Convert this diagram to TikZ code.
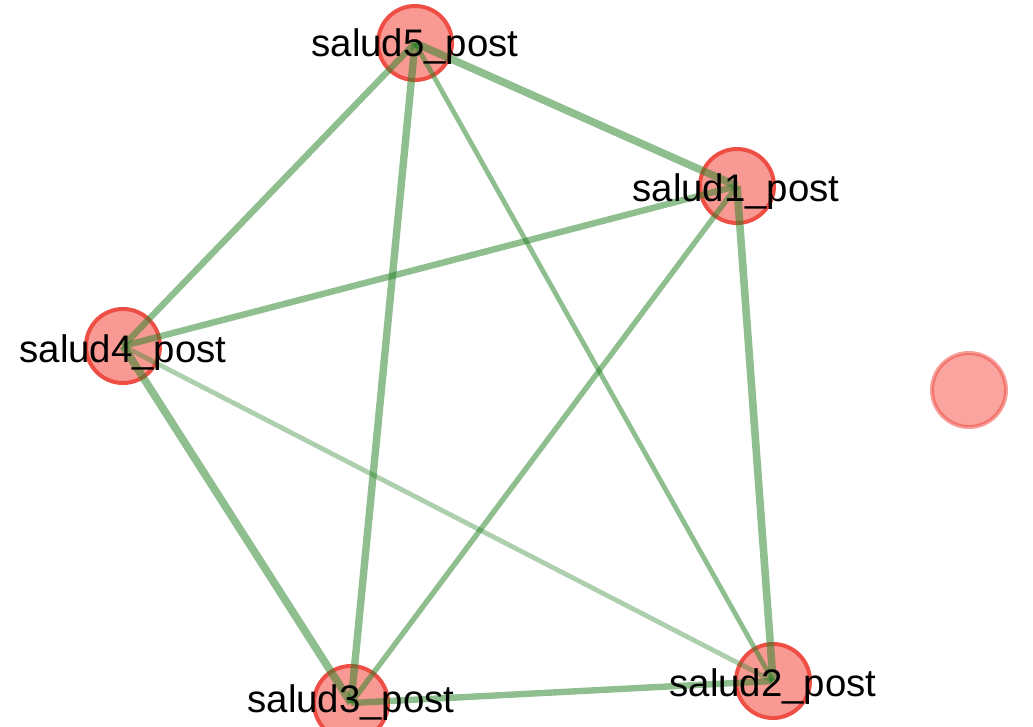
\documentclass[tikz,border=0pt]{standalone}
\usepackage{fontspec}
\setmainfont{Liberation Sans}
\usepackage{xcolor}
\usetikzlibrary{calc}
\definecolor{nodefill}{RGB}{248,154,147}
\definecolor{noderim}{RGB}{238,78,68}
\definecolor{edgegreen}{RGB}{40,130,40}
\tikzset{
		vertex/.style={circle,draw=noderim,fill=nodefill,line width=2pt,minimum size=37pt,inner sep=0pt},
		tie/.style={edgegreen,draw opacity=0.52,line cap=butt},
		lbl/.style={font=\fontsize{19.2}{22}\selectfont,inner sep=0pt}
	}
\begin{document}
\begin{tikzpicture}[x=0.5pt,y=-0.5pt]
          \useasboundingbox (0,0) rectangle (1033,727);

          \node[vertex] (s5) at (415,43) {};
          \node[vertex] (s1) at (737,186) {};
          \node[vertex] (s4) at (123,346) {};
          \node[vertex] (s3) at (351,703) {};
          \node[vertex] (s2) at (773,681) {};
          \node[vertex,draw opacity=0.55,fill opacity=0.9] (s6) at (969,390) {};% the lonely one

          \draw[tie,line width=3.8pt] (s5.center) -- (s1.center);
          \draw[tie,line width=3.2pt] (s5.center) -- (s4.center);
          \draw[tie,line width=3.7pt] (s5.center) -- (s3.center);
          \draw[tie,line width=2.4pt] (s5.center) -- (s2.center);
          \draw[tie,line width=3.2pt] (s1.center) -- (s4.center);
          \draw[tie,line width=2.7pt] (s1.center) -- (s3.center);
          \draw[tie,line width=3.8pt] (s1.center) -- (s2.center);
          \draw[tie,line width=3.9pt] (s4.center) -- (s3.center);
          \draw[tie,line width=2.4pt,draw opacity=0.38] (s4.center) -- (s2.center);
          \draw[tie,line width=3.2pt] (s3.center) -- (s2.center);

          \node[lbl] (t5) at ($(s5)+(0,4)$) {salud5\_post};
          \node[lbl] (t1) at ($(s1)+(-1,6)$) {salud1\_post};
          \node[lbl] (t4) at ($(s4)+(0,7)$) {salud4\_post};
          \node[lbl] (t3) at ($(s3)+(0,0)$) {salud3\_post};
          \node[lbl] (t2) at ($(s2)+(0,6)$) {salud2\_post};

          \end{tikzpicture}
\end{document}
